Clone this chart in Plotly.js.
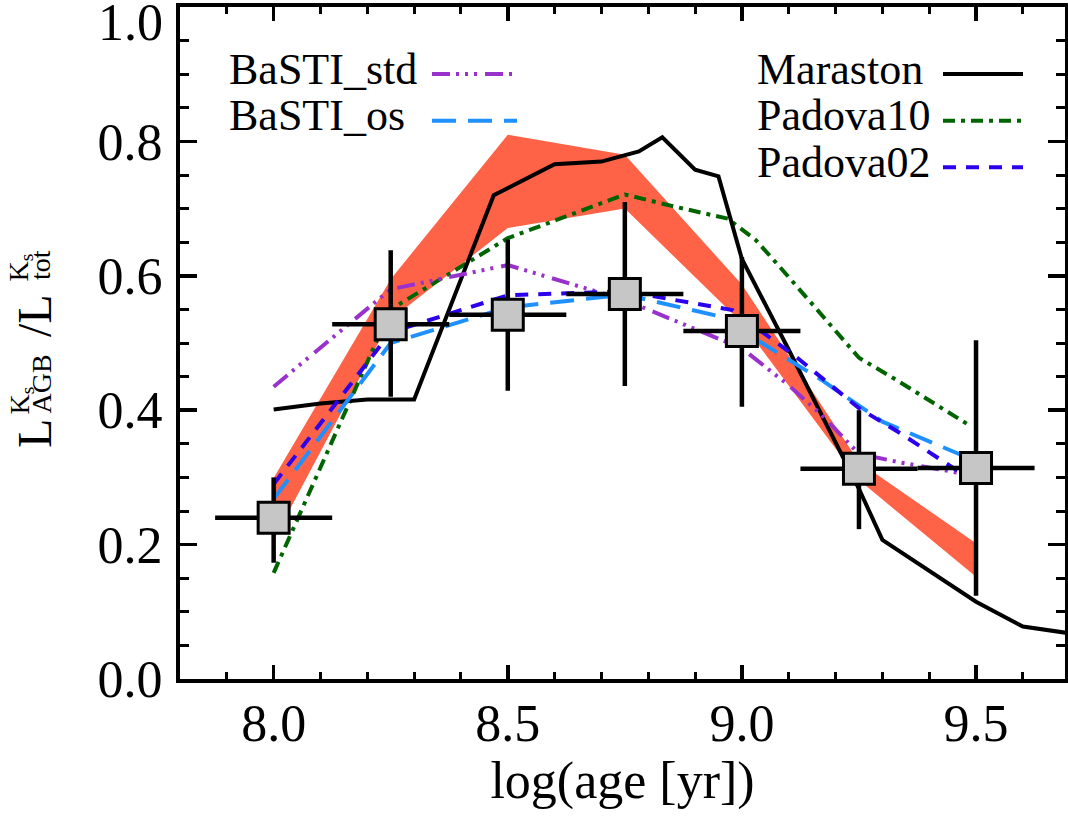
<!DOCTYPE html>
<html><head><meta charset="utf-8">
<script src="https://cdn.plot.ly/plotly-3.0.1.min.js"></script>
<style>html,body{margin:0;padding:0;background:#fff;}#chart{width:1068px;height:818px;}</style>
</head><body><div id="chart"></div>
<script>
// Observed AGB fraction (data points)
const obsAge = [8.0, 8.25, 8.5, 8.75, 9.0, 9.25, 9.5];
const obsFrac = [0.240, 0.528, 0.542, 0.573, 0.518, 0.313, 0.314];
const obsErrUp = [0.060, 0.110, 0.112, 0.137, 0.110, 0.087, 0.190];
const obsErrDown = [0.067, 0.108, 0.113, 0.137, 0.113, 0.090, 0.190];
const obsAgeErr = [0.125, 0.125, 0.125, 0.125, 0.125, 0.125, 0.125];

// Shaded band
const bandAge = [8.0, 8.25, 8.5, 8.75, 9.0, 9.25, 9.5];
const bandLow = [0.207, 0.535, 0.671, 0.700, 0.530, 0.296, 0.152];
const bandHigh = [0.299, 0.595, 0.810, 0.780, 0.587, 0.323, 0.202];

// Models
const marAge = [8.0, 8.1, 8.2, 8.3, 8.47, 8.6, 8.7, 8.78, 8.83, 8.9, 8.95, 9.0, 9.1, 9.2, 9.25, 9.3, 9.5, 9.6, 9.7];
const marFrac = [0.401, 0.410, 0.416, 0.416, 0.720, 0.766, 0.770, 0.785, 0.806, 0.758, 0.748, 0.625, 0.490, 0.352, 0.283, 0.207, 0.115, 0.078, 0.068];
const p10Age = [8.0, 8.25, 8.5, 8.75, 8.85, 8.97, 9.03, 9.08, 9.25, 9.33, 9.48];
const p10Frac = [0.158, 0.550, 0.656, 0.721, 0.704, 0.685, 0.653, 0.614, 0.478, 0.445, 0.380];
const p02Age = [8.0, 8.25, 8.5, 8.75, 8.98, 9.12, 9.25, 9.34, 9.46];
const p02Frac = [0.290, 0.516, 0.571, 0.577, 0.549, 0.477, 0.403, 0.365, 0.310];
const bsAge = [8.0, 8.25, 8.5, 8.75, 9.0, 9.1, 9.17, 9.25, 9.34, 9.47];
const bsFrac = [0.435, 0.580, 0.616, 0.564, 0.492, 0.437, 0.393, 0.335, 0.322, 0.306];
const boAge = [8.0, 8.25, 8.5, 8.75, 8.95, 9.05, 9.17, 9.3, 9.47];
const boFrac = [0.268, 0.500, 0.553, 0.572, 0.540, 0.497, 0.445, 0.383, 0.333];

const xTickVals = [8.0, 8.5, 9.0, 9.5];
const xTickText = ['8.0', '8.5', '9.0', '9.5'];
const yTickVals = [0.0, 0.2, 0.4, 0.6, 0.8, 1.0];
const yTickText = ['0.0', '0.2', '0.4', '0.6', '0.8', ''];

const C = {
  band: '#ff6347', mar: '#000000', p10: '#006400', p02: '#2c00ec',
  bs: '#9932cc', bo: '#1e90ff'
};
const D = {
  mar: 'solid', p10: '12px,6px,4px,6px', p02: '13px,10px',
  bs: '18px,6px,3px,6px,3px,6px,3px,8px', bo: '24px,12px'
};

const traces = [
  {x: bandAge.concat(bandAge.slice().reverse()), y: bandLow.concat(bandHigh.slice().reverse()),
   mode: 'lines', fill: 'toself', fillcolor: C.band, line: {width: 0, color: C.band}, hoverinfo: 'skip'},
  {x: p10Age, y: p10Frac, mode: 'lines', line: {color: C.p10, width: 4, dash: D.p10}},
  {x: marAge, y: marFrac, mode: 'lines', line: {color: C.mar, width: 4}},
  {x: bsAge, y: bsFrac, mode: 'lines', line: {color: C.bs, width: 4, dash: D.bs}},
  {x: boAge, y: boFrac, mode: 'lines', line: {color: C.bo, width: 4, dash: D.bo}},
  {x: p02Age, y: p02Frac, mode: 'lines', line: {color: C.p02, width: 4, dash: D.p02}},
  {x: obsAge, y: obsFrac, mode: 'markers',
   marker: {symbol: 'square', size: 31, color: '#c6c6c6', line: {color: '#000', width: 3}},
   error_x: {type: 'data', array: obsAgeErr, color: '#000', thickness: 4.5, width: 0},
   error_y: {type: 'data', symmetric: false, array: obsErrUp, arrayminus: obsErrDown, color: '#000', thickness: 4.5, width: 0}}
];

const PL = 180, PT = 7, PW = 885, PH = 672;
const px = v => (v - PL) / PW;
const py = v => (PT + PH - v) / PH;
const FONT = 'Liberation Serif';

function ann(text, x, y, size, opts) {
  return Object.assign({text: text, x: px(x), y: py(y), xref: 'paper', yref: 'paper', showarrow: false,
    xanchor: 'center', yanchor: 'middle', font: {family: FONT, size: size, color: '#000'}}, opts || {});
}

const legendRows = [
  {name: 'BaSTI_std', key: 'bs', tx: 227, lx0: 432, lx1: 514, y: 74},
  {name: 'BaSTI_os', key: 'bo', tx: 227, lx0: 432, lx1: 517, y: 120.7},
  {name: 'Maraston', key: 'mar', tx: 755, lx0: 943, lx1: 1023, y: 74},
  {name: 'Padova10', key: 'p10', tx: 755, lx0: 943, lx1: 1023, y: 120.7},
  {name: 'Padova02', key: 'p02', tx: 755, lx0: 943, lx1: 1023, y: 167.3}
];

const annotations = [
  ann('1.0', 165, 22, 52, {xanchor: 'right'}),
  ann('L', 34, 434, 48, {textangle: -90}),
  ann('AGB', 40.5, 384, 28, {textangle: -90}),
  ann('K<sub>s</sub>', 20.5, 401, 28, {textangle: -90}),
  ann('/L', 34, 316, 48, {textangle: -90}),
  ann('tot', 40.5, 265.5, 28, {textangle: -90}),
  ann('K<sub>s</sub>', 20.5, 268, 28, {textangle: -90})
];
const shapes = [];
legendRows.forEach(r => {
  annotations.push(ann(r.name, r.tx, r.y - 5, 44, {xanchor: 'left'}));
  shapes.push({type: 'line', xref: 'paper', yref: 'paper', x0: px(r.lx0), x1: px(r.lx1), y0: py(r.y), y1: py(r.y),
    line: {color: C[r.key], width: 4, dash: D[r.key]}});
});

const layout = {
  width: 1068, height: 818,
  margin: {l: PL, r: 1068 - PL - PW, t: PT, b: 818 - PT - PH, pad: 0},
  paper_bgcolor: '#fff', plot_bgcolor: '#fff', showlegend: false,
  font: {family: FONT, color: '#000'},
  xaxis: {
    range: [7.8, 9.69], tickmode: 'array', tickvals: xTickVals, ticktext: xTickText,
    ticks: 'inside', ticklen: 14, tickwidth: 3.5, tickcolor: '#000',
    showline: true, linewidth: 4, linecolor: '#000', mirror: 'ticks',
    showgrid: false, zeroline: false, tickfont: {size: 52, family: FONT},
    ticklabelstandoff: -4,
    minor: {tickmode: 'linear', tick0: 8.0, dtick: 0.1, ticks: 'inside', ticklen: 7, tickwidth: 3, tickcolor: '#000', showgrid: false},
    title: {text: 'log(age [yr])', font: {size: 52, family: FONT}, standoff: 8}
  },
  yaxis: {
    range: [0, 1], tickmode: 'array', tickvals: yTickVals, ticktext: yTickText,
    ticks: 'inside', ticklen: 17, tickwidth: 3.5, tickcolor: '#000',
    showline: true, linewidth: 4, linecolor: '#000', mirror: 'ticks',
    showgrid: false, zeroline: false, tickfont: {size: 52, family: FONT},
    ticklabelstandoff: 3,
    minor: {tickmode: 'linear', tick0: 0, dtick: 0.05, ticks: 'inside', ticklen: 9, tickwidth: 3, tickcolor: '#000', showgrid: false}
  },
  annotations: annotations,
  shapes: shapes
};

Plotly.newPlot('chart', traces, layout, {displayModeBar: false, staticPlot: true});
</script>
</body></html>
